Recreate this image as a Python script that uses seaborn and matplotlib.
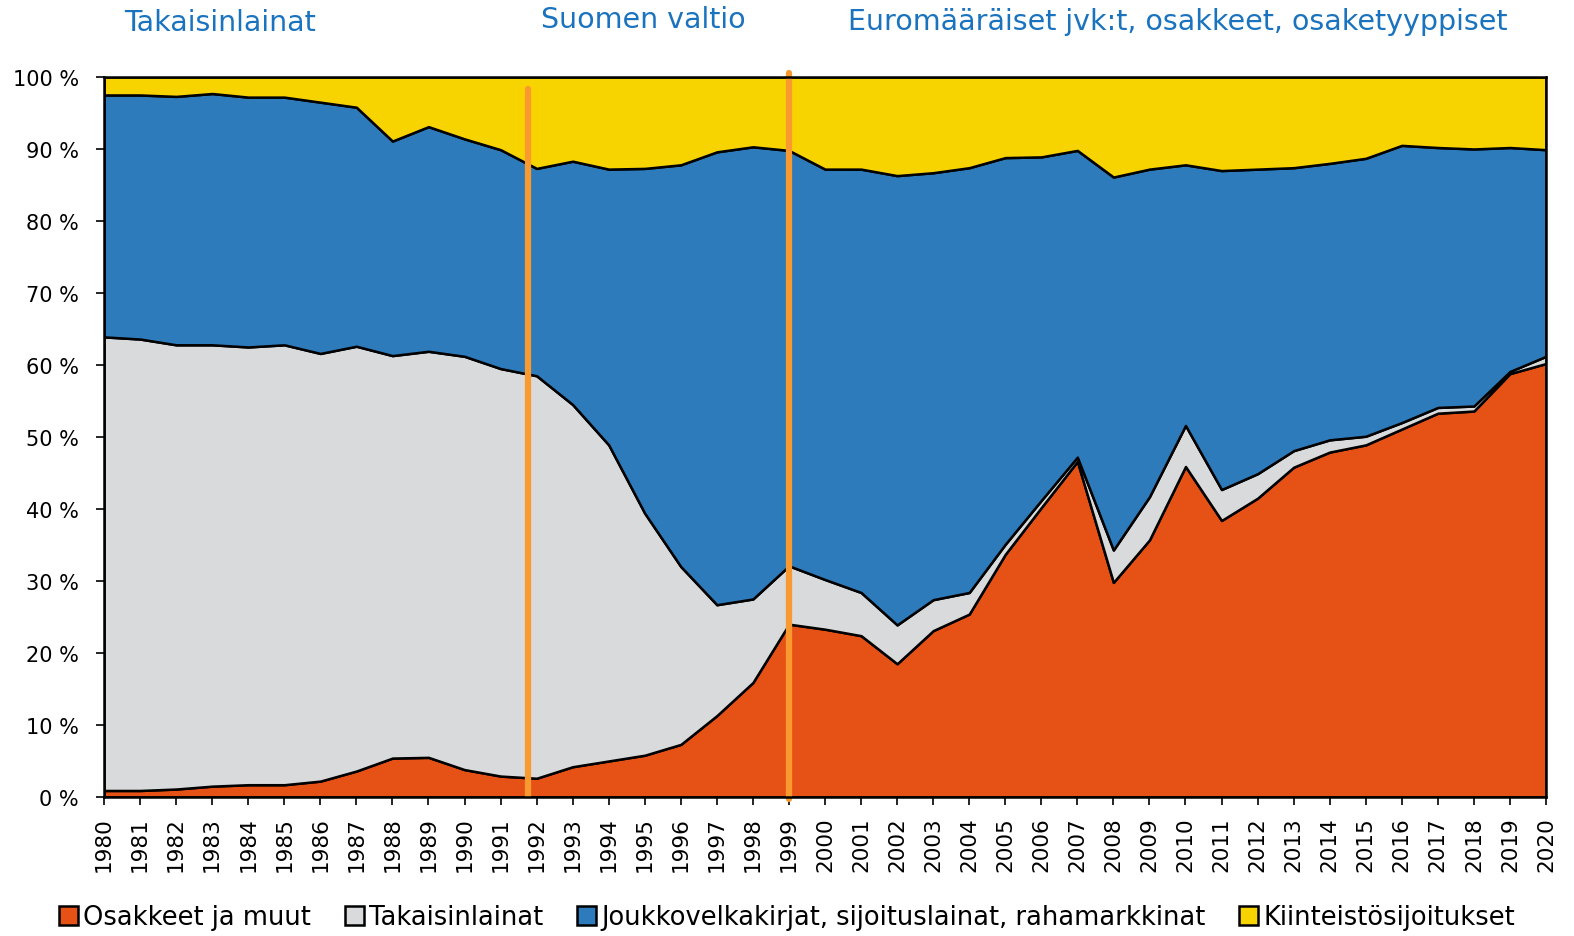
import matplotlib
matplotlib.use("Agg")
import matplotlib.pyplot as plt
from matplotlib.patches import Patch
import seaborn as sns
import pandas as pd

# Sijoitusten jakauma (%), luettu kuvasta
years = list(range(1980, 2021))
osakkeet = [0.9, 0.9, 1.1, 1.5, 1.7, 1.7, 2.2, 3.6, 5.4, 5.5,
            3.8, 2.9, 2.6, 4.2, 5.0, 5.8, 7.3, 11.3, 15.9, 24.0,
            23.3, 22.4, 18.5, 23.1, 25.4, 33.7, 40.2, 46.6, 29.8, 35.7,
            45.9, 38.4, 41.5, 45.8, 47.9, 48.9, 51.1, 53.3, 53.6, 58.8,
            60.2]
takaisinlainat = [63.0, 62.7, 61.7, 61.3, 60.8, 61.1, 59.4, 59.0, 55.9, 56.4,
                  57.4, 56.6, 55.9, 50.3, 43.9, 33.6, 24.7, 15.4, 11.6, 8.1,
                  6.9, 6.0, 5.4, 4.3, 3.0, 1.4, 1.0, 0.6, 4.5, 6.0,
                  5.7, 4.3, 3.4, 2.3, 1.7, 1.2, 0.9, 0.8, 0.7, 0.3,
                  1.0]
joukkovelkakirjat = [33.6, 33.9, 34.5, 34.9, 34.7, 34.4, 34.9, 33.2, 29.8, 31.2,
                     30.2, 30.4, 28.8, 33.8, 38.3, 47.9, 55.8, 62.9, 62.8, 57.7,
                     57.0, 58.8, 62.4, 59.3, 59.0, 53.7, 47.7, 42.6, 51.8, 45.5,
                     36.2, 44.3, 42.3, 39.3, 38.4, 38.6, 38.5, 36.1, 35.7, 31.1,
                     28.7]
kiinteisto = [2.5, 2.5, 2.7, 2.3, 2.8, 2.8, 3.5, 4.2, 8.9, 6.9,
              8.6, 10.1, 12.7, 11.7, 12.8, 12.7, 12.2, 10.4, 9.7, 10.2,
              12.8, 12.8, 13.7, 13.3, 12.6, 11.2, 11.1, 10.2, 13.9, 12.8,
              12.2, 13.0, 12.8, 12.6, 12.0, 11.3, 9.5, 9.8, 10.0, 9.8,
              10.1]

series_names = ["Osakkeet ja muut", "Takaisinlainat",
                "Joukkovelkakirjat, sijoituslainat, rahamarkkinat",
                "Kiinteistösijoitukset"]
colors = ["#E65216", "#D9DADC", "#2D7BBA", "#F7D300"]

period_titles = ["Takaisinlainat", "Suomen valtio",
                 "Euromääräiset jvk:t, osakkeet, osaketyyppiset"]
period_lines = [1991.75, 1999]

df = pd.DataFrame({
    "vuosi": years,
    series_names[0]: osakkeet,
    series_names[1]: takaisinlainat,
    series_names[2]: joukkovelkakirjat,
    series_names[3]: kiinteisto,
})

sns.set_theme(style="white")
plt.rcParams["font.family"] = ["DejaVu Sans"]
plt.rcParams["text.color"] = "black"

fig = plt.figure(figsize=(15.74, 9.37), dpi=100)
ax = fig.add_axes([0.0661, 0.1484, 0.9161, 0.7684])

ax.stackplot(df["vuosi"], [df[n] for n in series_names], colors=colors,
             edgecolor="black", linewidth=1.8)

# kauden rajat
ax.axvline(period_lines[0], ymin=0, ymax=0.983, color="#F99A30", linewidth=4.5)
ax.axvline(period_lines[1], ymin=-0.003, ymax=1.006, color="#F99A30",
           linewidth=4.5, clip_on=False)

ax.set_xlim(1980, 2020)
ax.set_ylim(0, 100)
ax.set_xticks(years)
ax.set_xticklabels([str(y) for y in years], rotation=90, fontsize=15.5)
ax.set_yticks(range(0, 101, 10))
ax.set_yticklabels([f"{v} %" for v in range(0, 101, 10)], fontsize=15)
ax.tick_params(axis="both", direction="out", length=6, width=1.2,
               color="black", labelcolor="black", left=True, bottom=True)
ax.tick_params(axis="y", pad=12)
ax.tick_params(axis="x", pad=8)
for s in ax.spines.values():
    s.set_color("black")
    s.set_linewidth(1.8)
ax.set_xlabel("")
ax.set_ylabel("")

title_color = "#1A73BE"
fig.text(0.079, 0.975, period_titles[0], color=title_color, fontsize=20.5,
         ha="left", va="center")
fig.text(0.4085, 0.979, period_titles[1], color=title_color, fontsize=20.5,
         ha="center", va="center")
fig.text(0.7484, 0.977, period_titles[2], color=title_color, fontsize=20.5,
         ha="center", va="center")

handles = [Patch(facecolor=c, edgecolor="black", linewidth=1.8) for c in colors]
fig.legend(handles, series_names, loc="center", bbox_to_anchor=(0.5, 0.02),
           ncol=4, frameon=False, fontsize=18.5, handlelength=0.75,
           handleheight=0.75, handletextpad=0.2, columnspacing=1.3)

fig.savefig("out.png", dpi=100)
